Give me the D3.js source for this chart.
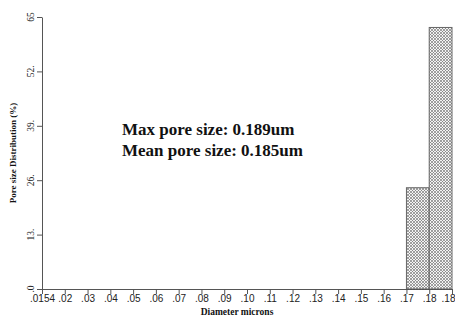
<!DOCTYPE html>
<html>
<head>
<meta charset="utf-8">
<script src="https://cdn.jsdelivr.net/npm/d3@7"></script>
<style>
  body { margin: 0; background: #fff; }
  svg { display: block; }
</style>
</head>
<body>
<div id="container"></div>
<script>
const width = 455;
const height = 320;

// x tick labels (evenly spaced, as drawn)
const xLabels = ['.0154', '.02', '.03', '.04', '.05', '.06', '.07', '.08', '.09', '.10',
                 '.11', '.12', '.13', '.14', '.15', '.16', '.17', '.18', '.18'];
// histogram bins: start/end tick index and value (%)
const binStart = [16, 17];
const binEnd = [17, 18];
const binValue = [24.2, 62.5];
// y ticks
const yTicks = [0, 13, 26, 39, 52, 65];
const yTickLabels = ['.0', '13.', '26.', '39.', '52.', '65'];
const notes = ['Max pore size: 0.189um', 'Mean pore size: 0.185um'];

const x = d3.scalePoint()
    .domain(d3.range(xLabels.length))
    .range([42, 452]);

const y = d3.scaleLinear()
    .domain([0, 65])
    .range([289, 17]);

const svg = d3.select('#container').append('svg')
    .attr('width', width)
    .attr('height', height)
    .attr('viewBox', `0 0 ${width} ${height}`);

// crosshatch fill
const pat = svg.append('defs').append('pattern')
    .attr('id', 'hatch')
    .attr('patternUnits', 'userSpaceOnUse')
    .attr('width', 3)
    .attr('height', 3);
pat.append('rect').attr('width', 3).attr('height', 3).attr('fill', '#f4f4f4');
pat.append('path')
    .attr('d', 'M0,0L3,3M3,0L0,3')
    .attr('stroke', '#7a7a7a')
    .attr('stroke-width', 0.7);

// bars
svg.append('g')
    .selectAll('rect')
    .data(binValue)
    .join('rect')
    .attr('x', (d, i) => x(binStart[i]))
    .attr('y', d => y(d))
    .attr('width', (d, i) => x(binEnd[i]) - x(binStart[i]))
    .attr('height', d => y(0) - y(d))
    .attr('fill', 'url(#hatch)')
    .attr('stroke', '#666')
    .attr('stroke-width', 1);

// x axis
const xAxis = svg.append('g')
    .attr('transform', `translate(0,${y(0)})`)
    .call(d3.axisBottom(x).tickSize(5).tickSizeOuter(0).tickFormat(i => xLabels[i]));
xAxis.select('.domain').attr('stroke', '#555');
xAxis.selectAll('.tick line').attr('stroke', '#555');
xAxis.selectAll('.tick text')
    .attr('y', 6)
    .attr('fill', '#222')
    .style('font-family', '"Liberation Sans", Arial, sans-serif')
    .style('font-size', '10px');
// last label sits against the right edge
xAxis.selectAll('.tick text')
    .filter(i => i === xLabels.length - 1)
    .attr('text-anchor', 'end')
    .attr('x', 3);

// y axis
const yAxis = svg.append('g')
    .attr('transform', `translate(${x(0)},0)`)
    .call(d3.axisLeft(y).tickValues(yTicks).tickSize(5).tickSizeOuter(0).tickFormat(''));
yAxis.select('.domain').attr('stroke', '#555');
yAxis.selectAll('.tick line').attr('stroke', '#555');

svg.append('g')
    .selectAll('text')
    .data(yTicks)
    .join('text')
    .attr('transform', d => `translate(34,${y(d)}) rotate(-90)`)
    .attr('text-anchor', 'middle')
    .attr('fill', '#222')
    .style('font-family', '"Liberation Serif", "Times New Roman", serif')
    .style('font-size', '9.5px')
    .text((d, i) => yTickLabels[i]);

// axis titles
svg.append('text')
    .attr('transform', `translate(16,${(y(0) + y(65)) / 2}) rotate(-90)`)
    .attr('text-anchor', 'middle')
    .attr('fill', '#111')
    .style('font-family', '"Liberation Serif", "Times New Roman", serif')
    .style('font-size', '9px')
    .style('font-weight', 'bold')
    .text('Pore size Distribution (%)');

svg.append('text')
    .attr('x', 237)
    .attr('y', 315)
    .attr('text-anchor', 'middle')
    .attr('fill', '#111')
    .style('font-family', '"Liberation Serif", "Times New Roman", serif')
    .style('font-size', '9.5px')
    .style('font-weight', 'bold')
    .text('Diameter microns');

// annotation
svg.append('g')
    .selectAll('text')
    .data(notes)
    .join('text')
    .attr('x', 122)
    .attr('y', (d, i) => 135 + i * 21)
    .attr('fill', '#111')
    .style('font-family', '"Liberation Serif", "Times New Roman", serif')
    .style('font-size', '17px')
    .style('font-weight', 'bold')
    .text(d => d);
</script>
</body>
</html>
